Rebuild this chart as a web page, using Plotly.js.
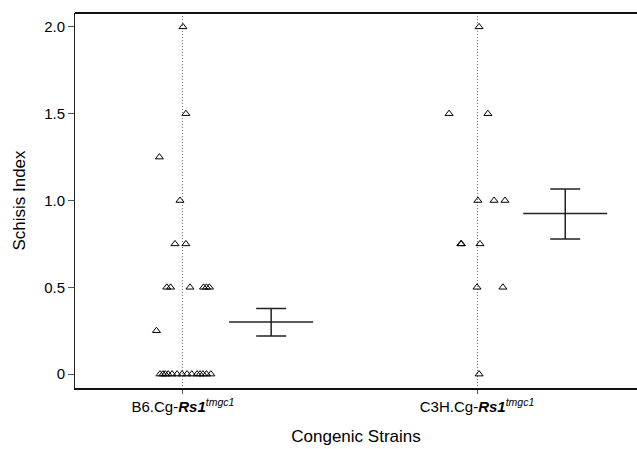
<!DOCTYPE html>
<html>
<head>
<meta charset="utf-8">
<script src="https://cdn.plot.ly/plotly-3.0.1.min.js"></script>
<style>html,body{margin:0;padding:0;background:#fff;}#chart{width:637px;height:449px;}</style>
</head>
<body>
<div id="chart"></div>
<script>
// Categories (x positions 1 and 2)
const categories = ['B6.Cg-<b><i>Rs1</i></b><sup><i>tmgc1</i></sup>', 'C3H.Cg-<b><i>Rs1</i></b><sup><i>tmgc1</i></sup>'];
const categoryPos = [1, 2];

// B6 strain schisis index values and horizontal jitter
const b6Values = [2.0, 1.5, 1.25, 1.0, 0.75, 0.75, 0.5, 0.5, 0.5, 0.5, 0.5, 0.5, 0.25,
  0, 0, 0, 0, 0, 0, 0, 0, 0, 0, 0, 0, 0, 0];
const b6Jitter = [0.0, 0.01, -0.08, -0.01, -0.027, 0.01, -0.055, -0.042, 0.024, 0.07, 0.08, 0.09, -0.09,
  -0.078, -0.068, -0.06, -0.05, -0.037, -0.02, -0.003, 0.014, 0.03, 0.048, 0.058, 0.068, 0.08, 0.095];

// C3H strain values and jitter
const c3hValues = [2.0, 1.5, 1.5, 1.0, 1.0, 1.0, 0.75, 0.75, 0.75, 0.5, 0.5, 0];
const c3hJitter = [0.007, -0.095, 0.037, 0.003, 0.058, 0.095, -0.055, -0.053, 0.01, 0.0, 0.088, 0.007];

// Mean and SE bars
const means = [0.30, 0.925];
const upper = [0.378, 1.066];
const lower = [0.219, 0.778];
const meanOffset = 0.3;

const yTickVals = [0, 0.5, 1.0, 1.5, 2.0];
const yTickText = ['0', '0.5', '1.0', '1.5', '2.0'];

const ptStyle = {symbol: 'triangle-up-open', size: 7, color: '#000', line: {width: 1, color: '#000'}};

const traces = [
  {
    x: b6Values.map((v, i) => categoryPos[0] + b6Jitter[i]),
    y: b6Values,
    mode: 'markers', type: 'scatter', marker: ptStyle, hoverinfo: 'y'
  },
  {
    x: c3hValues.map((v, i) => categoryPos[1] + c3hJitter[i]),
    y: c3hValues,
    mode: 'markers', type: 'scatter', marker: ptStyle, hoverinfo: 'y'
  },
  {
    x: categoryPos.map(p => p + meanOffset),
    y: means,
    mode: 'markers', type: 'scatter',
    marker: {symbol: 'line-ew', size: 60, line: {width: 1.5, color: '#222'}},
    error_y: {
      type: 'data', symmetric: false,
      array: upper.map((u, i) => u - means[i]),
      arrayminus: means.map((m, i) => m - lower[i]),
      width: 15, thickness: 1.5, color: '#222'
    },
    hoverinfo: 'y'
  }
];

const layout = {
  width: 637, height: 449,
  margin: {l: 75, r: 0, t: 13, b: 61},
  paper_bgcolor: '#fff', plot_bgcolor: '#fff',
  showlegend: false,
  font: {family: 'Liberation Sans, Arial, sans-serif', color: '#000'},
  shapes: [{
    type: 'line', xref: 'paper', yref: 'paper', x0: 0, x1: 1, y0: 1, y1: 1,
    line: {color: '#111', width: 2}
  }],
  xaxis: {
    range: [0.633, 2.544],
    tickvals: categoryPos, ticktext: categories,
    tickfont: {size: 15},
    ticks: 'outside', ticklen: 4, tickcolor: '#555', tickwidth: 1,
    showgrid: true, gridcolor: '#777', griddash: '1px,2px', gridwidth: 1,
    showline: true, linecolor: '#111', linewidth: 2, mirror: false,
    zeroline: false,
    title: {text: 'Congenic Strains', font: {size: 17}, standoff: 16}
  },
  yaxis: {
    range: [-0.08, 2.08],
    tickvals: yTickVals, ticktext: yTickText,
    tickfont: {size: 15},
    ticks: 'outside', ticklen: 6, tickcolor: '#555', tickwidth: 1,
    showgrid: false, zeroline: false,
    showline: true, linecolor: '#222', linewidth: 1,
    title: {text: 'Schisis Index', font: {size: 17}, standoff: 14}
  }
};

Plotly.newPlot('chart', traces, layout, {displayModeBar: false, staticPlot: true});
</script>
</body>
</html>
